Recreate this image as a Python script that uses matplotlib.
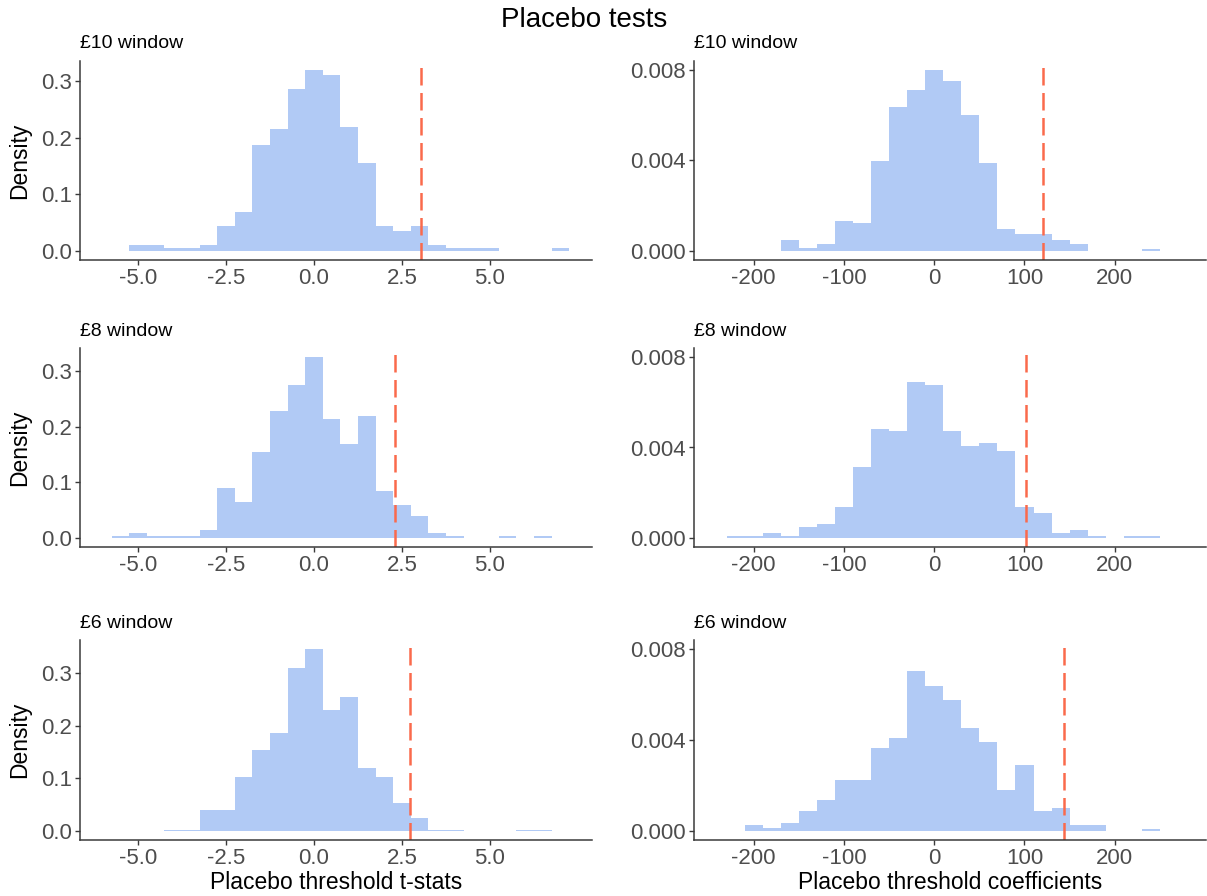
import matplotlib
matplotlib.use("Agg")
import matplotlib.pyplot as plt
import numpy as np

plt.rcParams["font.family"] = ["Liberation Sans", "DejaVu Sans"]
plt.rcParams["axes.unicode_minus"] = False

windows = ["£10 window", "£8 window", "£6 window"]

# bin centres (width 0.5 for t-stats, 20 for coefficients)
tstat_bins = [-5.5, -5.0, -4.5, -4.0, -3.5, -3.0, -2.5, -2.0, -1.5, -1.0, -0.5, 0.0, 0.5,
              1.0, 1.5, 2.0, 2.5, 3.0, 3.5, 4.0, 4.5, 5.0, 5.5, 6.0, 6.5, 7.0]
coef_bins = [-220, -200, -180, -160, -140, -120, -100, -80, -60, -40, -20, 0, 20,
             40, 60, 80, 100, 120, 140, 160, 180, 200, 220, 240]

tstat_w10 = [0, 0.0105, 0.0105, 0.005, 0.005, 0.010, 0.044, 0.068, 0.186, 0.215, 0.285, 0.319, 0.311,
             0.219, 0.155, 0.044, 0.035, 0.044, 0.010, 0.005, 0.005, 0.005, 0, 0, 0, 0.005]
tstat_w8 = [0.0036, 0.0096, 0.0036, 0.0036, 0.0036, 0.015, 0.0897, 0.0646, 0.155, 0.229, 0.275, 0.326, 0.215,
            0.170, 0.2206, 0.0855, 0.0598, 0.040, 0.0096, 0.0036, 0, 0, 0.0036, 0, 0.0036, 0]
tstat_w6 = [0, 0, 0, 0.0025, 0.0025, 0.039, 0.039, 0.103, 0.154, 0.185, 0.310, 0.345, 0.229,
            0.254, 0.1186, 0.103, 0.0526, 0.0247, 0.0025, 0.0025, 0, 0, 0, 0.0025, 0.0025, 0]

coef_w10 = [0, 0, 0, 0.00047, 0.00012, 0.00032, 0.00134, 0.00124, 0.00397, 0.00638, 0.00712, 0.0080, 0.00752,
            0.0060, 0.00388, 0.00096, 0.00073, 0.00073, 0.00048, 0.00032, 0, 0, 0, 0.0001]
coef_w8 = [0.00007, 0.00007, 0.00022, 0.0001, 0.00048, 0.00061, 0.00135, 0.00312, 0.00483, 0.00473, 0.00688,
           0.00675, 0.00473, 0.00408, 0.00422, 0.00386, 0.00135, 0.00109, 0.00022, 0.00033, 0.00009, 0,
           0.00007, 0.00007]
coef_w6 = [0, 0.00025, 0.00012, 0.00035, 0.00087, 0.00137, 0.00226, 0.00226, 0.00363, 0.00411, 0.00704,
           0.00638, 0.00576, 0.00452, 0.00392, 0.00178, 0.00289, 0.00087, 0.001, 0.00025, 0.00025, 0, 0,
           0.0001]

# actual estimates (red dashed lines)
tstat_actual = [3.03, 2.31, 2.73]
coef_actual = [120, 102, 144]

tstat_ticks = [-5.0, -2.5, 0.0, 2.5, 5.0]
coef_ticks = [-200, -100, 0, 100, 200]
coef_yticks = [0.000, 0.004, 0.008]
tstat_yticks = [0.0, 0.1, 0.2, 0.3]

fill = "#B1CAF5"
vcol = "#FA6A4C"
tick_col = "#4D4D4D"
W, H = 1207, 896

fig = plt.figure(figsize=(W / 100, H / 100), dpi=100)
fig.text(584 / W, 1 - 20 / H, "Placebo tests", ha="center", va="center", fontsize=20)

rows = [(61, 260), (348, 547), (640, 840)]
cols = [(80, 592), (694, 1206)]


def style(ax):
    for s in ["top", "right"]:
        ax.spines[s].set_visible(False)
    for s in ["left", "bottom"]:
        ax.spines[s].set_color("#3a3a3a")
        ax.spines[s].set_linewidth(1.1)
    ax.tick_params(colors="#3a3a3a", labelcolor=tick_col, labelsize=16, length=3.5, width=1, pad=2.5)


tstat_data = [tstat_w10, tstat_w8, tstat_w6]
coef_data = [coef_w10, coef_w8, coef_w6]

for i, (top, bot) in enumerate(rows):
    b = 1 - bot / H
    h = (bot - top) / H
    # t-stats
    ax = fig.add_axes([cols[0][0] / W, b, (cols[0][1] - cols[0][0]) / W, h])
    ax.bar(tstat_bins, tstat_data[i], width=0.5, color=fill, linewidth=0)
    ax.axvline(tstat_actual[i], color=vcol, lw=1.8, dashes=(7, 3))
    ymax = max(tstat_data[i])
    ax.set_ylim(-0.05 * ymax, 1.05 * ymax)
    ax.set_xlim(-6.65, 7.9)
    ax.set_xticks(tstat_ticks)
    ax.set_xticklabels([f"{t:.1f}" for t in tstat_ticks])
    ax.set_yticks(tstat_yticks)
    ax.set_yticklabels([f"{t:.1f}" for t in tstat_yticks])
    ax.set_ylabel("Density", fontsize=16.5)
    ax.yaxis.set_label_coords(-0.095, 0.5)
    ax.set_title(windows[i], loc="left", fontsize=14, pad=9)
    style(ax)
    if i == 2:
        ax.set_xlabel("Placebo threshold t-stats", fontsize=16.5, labelpad=1)

    # coefficients
    ax = fig.add_axes([cols[1][0] / W, b, (cols[1][1] - cols[1][0]) / W, h])
    ax.bar(coef_bins, coef_data[i], width=20, color=fill, linewidth=0)
    ax.axvline(coef_actual[i], color=vcol, lw=1.8, dashes=(7, 3))
    ax.set_ylim(-0.0004, 0.0084)
    ax.set_xlim(-266, 301)
    ax.set_xticks(coef_ticks)
    ax.set_xticklabels([str(t) for t in coef_ticks])
    ax.set_yticks(coef_yticks)
    ax.set_yticklabels([f"{t:.3f}" for t in coef_yticks])
    ax.set_title(windows[i], loc="left", fontsize=14, pad=9)
    style(ax)
    if i == 2:
        ax.set_xlabel("Placebo threshold coefficients", fontsize=16.5, labelpad=1)

fig.savefig("out.png", dpi=100)
